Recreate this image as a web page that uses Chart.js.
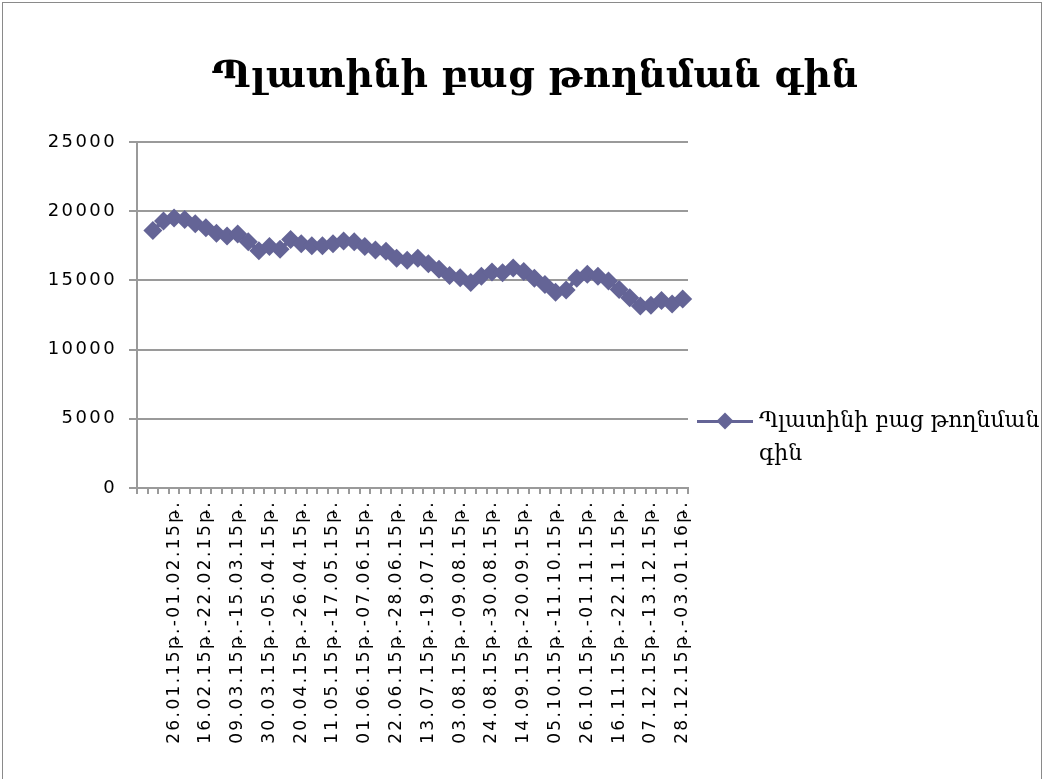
<!DOCTYPE html>
<html><head><meta charset="utf-8">
<script src="https://cdn.jsdelivr.net/npm/chart.js@4/dist/chart.umd.min.js"></script>
<style>
html,body{margin:0;padding:0;background:#fff;}
#wrap{position:relative;width:1044px;height:779px;overflow:hidden;background:#fff;}
#frame{position:absolute;left:2px;top:2px;width:1040px;height:800px;border:1px solid #8a8a8a;box-sizing:border-box;}
#title{position:absolute;left:0;width:1070px;top:51px;text-align:center;font-family:'DejaVu Serif',serif;font-weight:bold;font-size:38px;color:#000;white-space:nowrap;}
#chart{position:absolute;left:0;top:0;}
#legend{position:absolute;left:697px;top:407px;width:345px;height:80px;}
#lg-line{position:absolute;left:0;top:13px;width:56px;height:3px;}
#lg-dia{position:absolute;left:22px;top:8px;width:12px;height:12px;transform:rotate(45deg);}
#lg-text{position:absolute;left:62px;top:-4px;font-family:'DejaVu Serif',serif;font-size:22px;line-height:33px;color:#000;white-space:nowrap;}
</style></head>
<body>
<div id="wrap">
  <div id="frame"></div>
  <canvas id="chart" width="1044" height="779"></canvas>
  <div id="title"></div>
  <div id="legend"><div id="lg-line"></div><div id="lg-dia"></div><div id="lg-text"></div></div>
</div>
<script>
const chartTitle = 'Պլատինի բաց թողնման գին';
const seriesName = 'Պլատինի բաց թողնման գին';
const seriesColor = 'rgb(100,100,150)';

const categories = [
  '',
  '12.01.15թ.-18.01.15թ.', '19.01.15թ.-25.01.15թ.', '26.01.15թ.-01.02.15թ.',
  '02.02.15թ.-08.02.15թ.', '09.02.15թ.-15.02.15թ.', '16.02.15թ.-22.02.15թ.',
  '23.02.15թ.-01.03.15թ.', '02.03.15թ.-08.03.15թ.', '09.03.15թ.-15.03.15թ.',
  '16.03.15թ.-22.03.15թ.', '23.03.15թ.-29.03.15թ.', '30.03.15թ.-05.04.15թ.',
  '06.04.15թ.-12.04.15թ.', '13.04.15թ.-19.04.15թ.', '20.04.15թ.-26.04.15թ.',
  '27.04.15թ.-03.05.15թ.', '04.05.15թ.-10.05.15թ.', '11.05.15թ.-17.05.15թ.',
  '18.05.15թ.-24.05.15թ.', '25.05.15թ.-31.05.15թ.', '01.06.15թ.-07.06.15թ.',
  '08.06.15թ.-14.06.15թ.', '15.06.15թ.-21.06.15թ.', '22.06.15թ.-28.06.15թ.',
  '29.06.15թ.-05.07.15թ.', '06.07.15թ.-12.07.15թ.', '13.07.15թ.-19.07.15թ.',
  '20.07.15թ.-26.07.15թ.', '27.07.15թ.-02.08.15թ.', '03.08.15թ.-09.08.15թ.',
  '10.08.15թ.-16.08.15թ.', '17.08.15թ.-23.08.15թ.', '24.08.15թ.-30.08.15թ.',
  '31.08.15թ.-06.09.15թ.', '07.09.15թ.-13.09.15թ.', '14.09.15թ.-20.09.15թ.',
  '21.09.15թ.-27.09.15թ.', '28.09.15թ.-04.10.15թ.', '05.10.15թ.-11.10.15թ.',
  '12.10.15թ.-18.10.15թ.', '19.10.15թ.-25.10.15թ.', '26.10.15թ.-01.11.15թ.',
  '02.11.15թ.-08.11.15թ.', '09.11.15թ.-15.11.15թ.', '16.11.15թ.-22.11.15թ.',
  '23.11.15թ.-29.11.15թ.', '30.11.15թ.-06.12.15թ.', '07.12.15թ.-13.12.15թ.',
  '14.12.15թ.-20.12.15թ.', '21.12.15թ.-27.12.15թ.', '28.12.15թ.-03.01.16թ.'
];

const prices = [
  null,
  18600, 19300, 19500, 19400, 19100, 18800, 18400, 18200, 18350, 17800,
  17150, 17450, 17250, 17950, 17650, 17500, 17500, 17650, 17850, 17800,
  17450, 17200, 17100, 16600, 16450, 16600, 16200, 15800, 15350, 15200,
  14850, 15300, 15600, 15550, 15900, 15650, 15150, 14700, 14150, 14300,
  15150, 15450, 15300, 14950, 14350, 13750, 13150, 13200, 13550, 13300,
  13650
];

const yTicks = [0, 5000, 10000, 15000, 20000, 25000];
const labelEvery = 3;

document.getElementById('title').textContent = chartTitle;
const words = seriesName.split(' ');
document.getElementById('lg-text').innerHTML =
  words.slice(0, -1).join(' ') + '<br>' + words[words.length - 1];
document.getElementById('lg-line').style.background = seriesColor;
document.getElementById('lg-dia').style.background = seriesColor;

const gridColor = '#9a9a9a';

const letterSpacingPlugin = {
  id: 'tickLetterSpacing',
  beforeDraw(chart) { chart.ctx.letterSpacing = '2.4px'; },
  afterDraw(chart) { chart.ctx.letterSpacing = '0px'; }
};

new Chart(document.getElementById('chart'), {
  type: 'line',
  plugins: [letterSpacingPlugin],
  data: {
    labels: categories,
    datasets: [{
      label: seriesName,
      data: prices,
      borderColor: seriesColor,
      backgroundColor: seriesColor,
      borderWidth: 4,
      pointStyle: 'rectRot',
      pointRadius: 9.5,
      pointHoverRadius: 9.5,
      pointBackgroundColor: seriesColor,
      pointBorderColor: seriesColor,
      pointBorderWidth: 0,
      tension: 0,
      fill: false
    }]
  },
  options: {
    responsive: false,
    animation: false,
    events: [],
    layout: { padding: { left: 20, top: 142, right: 356, bottom: 21 } },
    plugins: { legend: { display: false }, title: { display: false }, tooltip: { enabled: false } },
    scales: {
      x: {
        type: 'category',
        offset: true,
        afterFit: (s) => { s.height = 270; },
        grid: { display: true, offset: true, drawOnChartArea: false, drawTicks: true, tickLength: 6, color: gridColor, tickColor: gridColor, lineWidth: 2 },
        border: { display: true, color: gridColor, width: 2 },
        ticks: {
          autoSkip: false, minRotation: 90, maxRotation: 90, padding: 6,
          color: '#000',
          font: { family: 'DejaVu Sans', size: 17 },
          callback: function (v, i) { return (i % labelEvery === 0 && i > 0) ? categories[i] : ''; }
        }
      },
      y: {
        min: 0, max: 25000,
        afterFit: (s) => { s.width = 117; },
        afterBuildTicks: (s) => { s.ticks = yTicks.map(v => ({ value: v })); },
        grid: { display: true, drawTicks: true, tickLength: 8, color: gridColor, tickColor: gridColor, lineWidth: 2 },
        border: { display: true, color: gridColor, width: 2 },
        ticks: {
          padding: 12, color: '#000',
          font: { family: 'DejaVu Sans', size: 18 },
          callback: (v) => String(v)
        }
      }
    }
  }
});
</script>
</body></html>
